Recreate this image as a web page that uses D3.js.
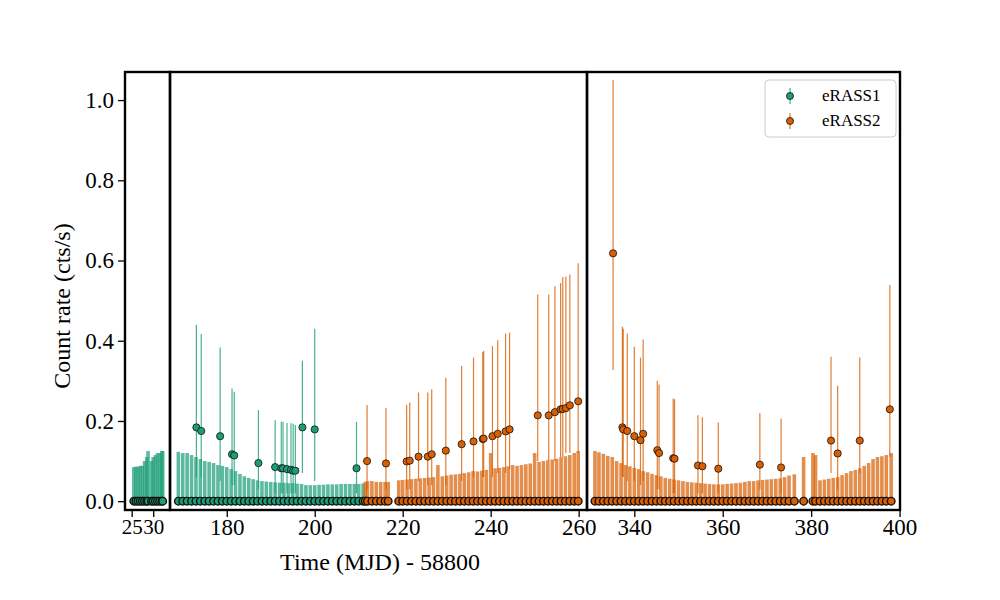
<!DOCTYPE html>
<html><head><meta charset="utf-8">
<script src="https://cdn.jsdelivr.net/npm/d3@7"></script>
<style>body{margin:0;background:#fff}text{font-family:"Liberation Serif","DejaVu Serif",serif}</style>
</head><body><svg id="c" width="1000" height="600"></svg>
<script>
// zero-rate scans (rate 0, upper error only)
const zero1T = [25.5,26,26.5,27,27.5,28,28.5,28.8,29.6,30,30.5,31,31.5,32,32.2,
  169,170,171,172,173,174,175,176,177,178,179,180,181,182,183,184,185,186,187,188,189,190,191,192,193,194,195,196,197,198,199,200,201,202,203,204,205,206,207,208,209,210,211];
const zero1E = [.085,.086,.086,.088,.088,.10,.11,.125,.10,.11,.115,.12,.12,.125,.125,
  .123,.12,.12,.115,.11,.105,.1,.098,.095,.09,.088,.085,.08,.075,.068,.062,.058,.055,.052,.05,.049,.048,.047,.046,.046,.045,.045,.044,.043,.04,.04,.04,.041,.041,.042,.042,.042,.043,.043,.043,.043,.043,.044];
const zero2T = [211.5,212,213,214,215,216,216.7,
  219.1,220,221,222,223,224,225,226,227,228,229,230,231,232,233,234,235,236,237,238,239,240,241,242,243,244,245,246,247,248,249,250,251,252,253,254,255,256,257,258,259,259.9,
  331.1,332,333,334,335,336,337,338,339,340,341,342,343,344,345,346,347,348,349,350,351,352,353,354,355,356,357,358,359,360,361,362,363,364,365,366,367,368,369,370,371,372,373,374,375,376.2,
  378.3,380.4,381,382,383,384,385,386,387,388,389,390,391,392,393,394,395,396,397,398.1];
const zero2E = [.048,.05,.05,.048,.048,.048,.048,
  .052,.053,.054,.055,.056,.057,.058,.059,.06,.09,.062,.064,.066,.067,.068,.07,.072,.075,.074,.076,.078,.12,.082,.083,.085,.087,.09,.088,.09,.092,.094,.12,.098,.1,.102,.104,.106,.11,.112,.115,.12,.125,
  .125,.122,.118,.113,.11,.1,.095,.09,.087,.083,.08,.075,.072,.068,.065,.062,.058,.056,.054,.052,.05,.048,.047,.046,.045,.044,.043,.042,.042,.042,.043,.044,.045,.046,.048,.05,.05,.052,.053,.054,.055,.056,.057,.06,.064,.067,
  .11,.12,.115,.052,.054,.056,.058,.06,.065,.07,.075,.078,.082,.088,.095,.105,.11,.112,.115,.12];

// detections
const det1T  = [173.1,174.2,178.5,181.2,181.7,187.2,191.0,192.4,192.8,193.7,194.6,195.1,195.6,197.2,200.0,209.5];
const det1R  = [.184,.175,.162,.117,.114,.095,.085,.082,.082,.080,.078,.076,.076,.184,.179,.082];
const det1Hi = [.44,.417,.383,.281,.273,.227,.202,.198,.198,.195,.194,.193,.19,.35,.43,.198];
const det1Lo = [.06,.06,.05,.04,.04,.03,.02,.02,.02,.02,.02,.02,.02,.07,.05,.02];
const det2T  = [211.9,216.2,220.9,221.6,223.6,225.7,226.6,229.8,233.4,236.1,238.2,238.4,240.4,241.6,243.4,244.3,250.7,253.2,254.6,255.9,256.4,257.1,258.0,259.9,
  335.2,337.3,337.5,338.4,340.0,341.4,342.0,345.2,345.6,348.8,349.1,354.4,355.4,359.0,368.4,373.2,384.5,386.0,391.0,397.8];
const det2R  = [.10,.094,.099,.101,.111,.111,.117,.126,.142,.149,.155,.156,.162,.168,.174,.179,.214,.214,.222,.229,.23,.232,.239,.249,
  .618,.184,.179,.175,.162,.152,.168,.127,.12,.107,.106,.089,.087,.081,.091,.084,.151,.119,.151,.229];
const det2Hi = [.24,.232,.24,.246,.271,.271,.279,.308,.337,.358,.372,.375,.387,.401,.418,.42,.515,.515,.536,.544,.559,.56,.565,.593,
  1.05,.435,.43,.418,.385,.358,.403,.30,.291,.256,.254,.214,.209,.196,.219,.206,.36,.288,.358,.539];
const det2Lo = [.03,.03,.03,.03,.05,.04,.04,.04,.05,.06,.06,.06,.06,.07,.07,.08,.1,.1,.1,.11,.11,.12,.12,.12,
  .327,.06,.06,.05,.05,.04,.05,.03,.03,.02,.02,.02,.02,.02,.03,.02,.07,.03,.07,.11];

const yTicks = [0, 0.2, 0.4, 0.6, 0.8, 1.0];
const panels = [
  {dom: [23.45, 33.9], rng: [125, 170], ticks: [25, 30]},
  {dom: [167.1, 261.9], rng: [170, 587], ticks: [180, 200, 220, 240, 260]},
  {dom: [329.3, 400.1], rng: [587, 900], ticks: [340, 360, 380, 400]},
];
const green = '#1b9e77', orange = '#d95f02';

const svg = d3.select('#c');
const y = d3.scaleLinear().domain([-0.022, 1.07]).range([510, 72]);

panels.forEach((p, i) => {
  const x = d3.scaleLinear().domain(p.dom).range(p.rng);
  const clipId = 'clip' + i;
  svg.append('clipPath').attr('id', clipId).append('rect')
    .attr('x', p.rng[0]).attr('y', 72).attr('width', p.rng[1] - p.rng[0]).attr('height', 438);
  const g = svg.append('g').attr('clip-path', `url(#${clipId})`);

  const series = [
    {zt: zero1T, ze: zero1E, dt: det1T, dr: det1R, hi: det1Hi, lo: det1Lo, c: green},
    {zt: zero2T, ze: zero2E, dt: det2T, dr: det2R, hi: det2Hi, lo: det2Lo, c: orange},
  ];
  series.forEach(s => {
    g.selectAll(null).data(s.zt.map((t, k) => [t, s.ze[k]])).enter().append('line')
      .attr('x1', d => x(d[0])).attr('x2', d => x(d[0]))
      .attr('y1', y(0)).attr('y2', d => y(d[1]))
      .attr('stroke', s.c).attr('stroke-width', 3.6).attr('opacity', 0.7);
    g.selectAll(null).data(s.dt.map((t, k) => k)).enter().append('line')
      .attr('x1', k => x(s.dt[k])).attr('x2', k => x(s.dt[k]))
      .attr('y1', k => y(s.lo[k])).attr('y2', k => y(s.hi[k]))
      .attr('stroke', s.c).attr('stroke-width', 1.2).attr('opacity', 0.8);
  });
  series.forEach(s => {
    g.selectAll(null).data(s.zt).enter().append('circle')
      .attr('cx', d => x(d)).attr('cy', y(0)).attr('r', 3.8)
      .attr('fill', s.c).attr('stroke', '#111').attr('stroke-width', 1.4);
    g.selectAll(null).data(s.dt.map((t, k) => k)).enter().append('circle')
      .attr('cx', k => x(s.dt[k])).attr('cy', k => y(s.dr[k])).attr('r', 3.6)
      .attr('fill', s.c).attr('stroke', '#111').attr('stroke-width', 0.8);
  });

  // x axis
  const ax = svg.append('g').attr('transform', 'translate(0,510)')
    .call(d3.axisBottom(x).tickValues(p.ticks).tickSize(7).tickPadding(2).tickFormat(d3.format('d')));
  ax.select('.domain').remove();
  ax.selectAll('line').attr('stroke', '#000').attr('stroke-width', 1.3);
  ax.selectAll('text').attr('font-size', i === 0 ? 21 : 23).attr('fill', '#000');
  // spines
  svg.append('rect').attr('x', p.rng[0]).attr('y', 72).attr('width', p.rng[1] - p.rng[0]).attr('height', 438)
    .attr('fill', 'none').attr('stroke', '#000').attr('stroke-width', 2.4);
});

const ay = svg.append('g').attr('transform', 'translate(125,0)')
  .call(d3.axisLeft(y).tickValues(yTicks).tickSize(7).tickPadding(4).tickFormat(d3.format('.1f')));
ay.select('.domain').remove();
ay.selectAll('line').attr('stroke', '#000').attr('stroke-width', 1.3);
ay.selectAll('text').attr('font-size', 23).attr('fill', '#000');

svg.append('text').attr('transform', 'translate(70,306) rotate(-90)').attr('text-anchor', 'middle')
  .attr('font-size', 24).text('Count rate (cts/s)');
svg.append('text').attr('x', 380).attr('y', 570).attr('text-anchor', 'middle')
  .attr('font-size', 24).text('Time (MJD) - 58800');

// legend
const leg = svg.append('g');
leg.append('rect').attr('x', 765).attr('y', 80).attr('width', 131).attr('height', 57).attr('rx', 4)
  .attr('fill', '#fff').attr('stroke', '#ccc');
[['eRASS1', green], ['eRASS2', orange]].forEach((d, i) => {
  const cy = 96 + i * 25;
  leg.append('line').attr('x1', 790).attr('x2', 790).attr('y1', cy - 8).attr('y2', cy + 8)
    .attr('stroke', d[1]).attr('stroke-width', 1);
  leg.append('circle').attr('cx', 790).attr('cy', cy).attr('r', 3.5).attr('fill', d[1])
    .attr('stroke', '#111').attr('stroke-width', 0.8);
  leg.append('text').attr('x', 822).attr('y', cy + 5).attr('font-size', 17).text(d[0]);
});
</script></body></html>
